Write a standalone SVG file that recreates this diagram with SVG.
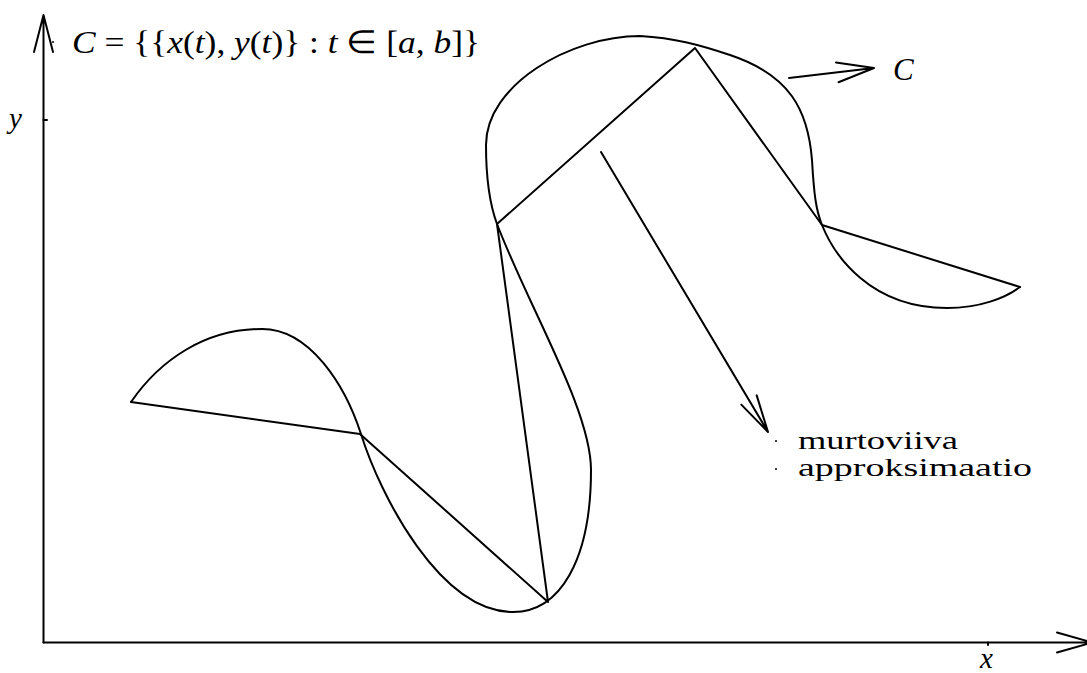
<svg xmlns="http://www.w3.org/2000/svg" width="1087" height="673" viewBox="0 0 1087 673">
<style>
.ln{fill:none;stroke:#000;stroke-width:2;stroke-linecap:round;stroke-linejoin:round}
.t{font-family:"Liberation Serif","Times New Roman",serif;fill:#000}
.i{font-style:italic}
</style>
<rect width="1087" height="673" fill="#fff"/>
<g id="axes">
<path class="ln" d="M43.5,642.5 V16 M34,52 L43.5,15 L53,52"/>
<path class="ln" d="M43.5,642.5 H1090 M1057,632.5 L1092,642.5 L1057,652.5"/>
<path class="ln" d="M43.5,120 H47 M988,642.5 V645" stroke-width="1"/>
<text class="t i" x="9" y="128" font-size="29">y</text>
<text class="t i" x="980" y="668" font-size="29">x</text>
</g>
<g id="curve">
<path class="ln" d="M131,402 C160,360 205,329 262,329 C310,329 345,385 361,434 C380,495 440,612 513,612 C560,612 591,560 591,470 C591,410 530,310 497,224 C490,205 486,175 486,145 C486,85 570,36 640,36 C675,38 700,45 730,55 C790,75 808,110 812,160 C814,195 816,210 822,225 C834,255 870,308 947,308 C980,308 1005,298 1020,287"/>
</g>
<g id="polyline">
<polyline class="ln" points="131,402 360,434 548,602 497,224 695,48 822,225 1020,287"/>
</g>
<g id="connectors">
<path class="ln" d="M789,78 L874,68 M836,62.4 L874,68 L838.5,82.2"/>
<path class="ln" d="M601,152 L768,432 M756.7,395.4 L768,432 L741.3,404.6"/>
</g>
<g id="title">
<circle cx="53" cy="42" r="1"/>
<text class="t" x="72" y="53" font-size="32" textLength="408" lengthAdjust="spacingAndGlyphs"><tspan class="i">C</tspan> = {{<tspan class="i">x</tspan>(<tspan class="i">t</tspan>), <tspan class="i">y</tspan>(<tspan class="i">t</tspan>)} : <tspan class="i">t</tspan> ∈ [<tspan class="i">a</tspan>, <tspan class="i">b</tspan>]}</text>
</g>
<g id="label-C">
<text class="t i" x="893" y="80" font-size="31">C</text>
</g>
<g id="label-murtoviiva">
<circle cx="776" cy="441" r="1"/>
<circle cx="776" cy="469" r="1"/>
<text class="t" x="798" y="449" font-size="26" textLength="160" lengthAdjust="spacingAndGlyphs">murtoviiva</text>
<text class="t" x="798" y="476" font-size="26" textLength="234" lengthAdjust="spacingAndGlyphs">approksimaatio</text>
</g>
</svg>
